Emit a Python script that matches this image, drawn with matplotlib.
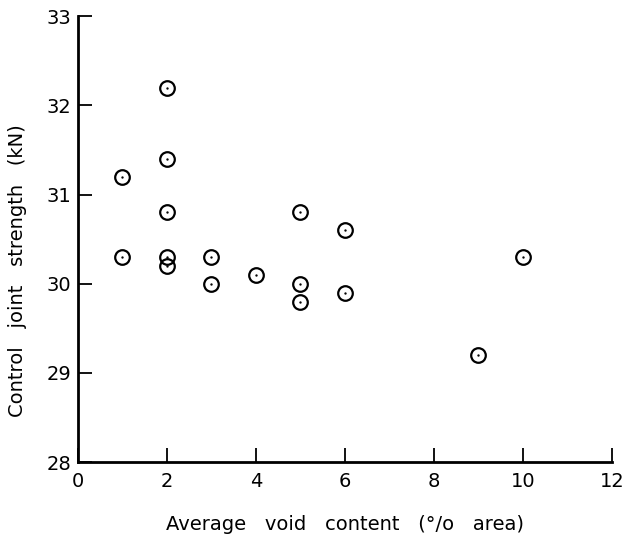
import matplotlib
matplotlib.use("Agg")
import matplotlib.pyplot as plt

# void content (% area) and control joint strength (kN)
void_content = [1, 1, 2, 2, 2, 2, 2, 3, 3, 4, 5, 5, 5, 6, 6, 9, 10]
joint_strength = [31.2, 30.3, 32.2, 31.4, 30.8, 30.3, 30.2, 30.3, 30.0,
                  30.1, 30.8, 30.0, 29.8, 30.6, 29.9, 29.2, 30.3]

x_ticks = [0, 2, 4, 6, 8, 10, 12]
y_ticks = [28, 29, 30, 31, 32, 33]

fig = plt.figure(figsize=(6.26, 5.41), dpi=100)
ax = fig.add_axes([0.1246, 0.146, 0.853, 0.824])

# open circles with a small dot in the centre
ax.plot(void_content, joint_strength, linestyle="none", marker="o",
        markersize=10.5, markerfacecolor="none", markeredgecolor="black",
        markeredgewidth=1.6)
ax.plot(void_content, joint_strength, linestyle="none", marker="o",
        markersize=0.7, color="black")

ax.set_xlim(0, 12)
ax.set_ylim(28, 33)
ax.set_xticks(x_ticks)
ax.set_yticks(y_ticks)

for side in ["top", "right"]:
    ax.spines[side].set_visible(False)
for side in ["left", "bottom"]:
    ax.spines[side].set_linewidth(2.0)

ax.tick_params(direction="in", length=10, width=1.3, labelsize=14, pad=7)
ax.tick_params(axis="y", pad=5)

ax.set_xlabel("Average   void   content   (°/o   area)", fontsize=14)
ax.set_ylabel("Control   joint   strength   (kN)", fontsize=14)
ax.xaxis.set_label_coords(0.5, -0.118)
ax.yaxis.set_label_coords(-0.095, 0.43)

fig.savefig("out.png", dpi=100)
